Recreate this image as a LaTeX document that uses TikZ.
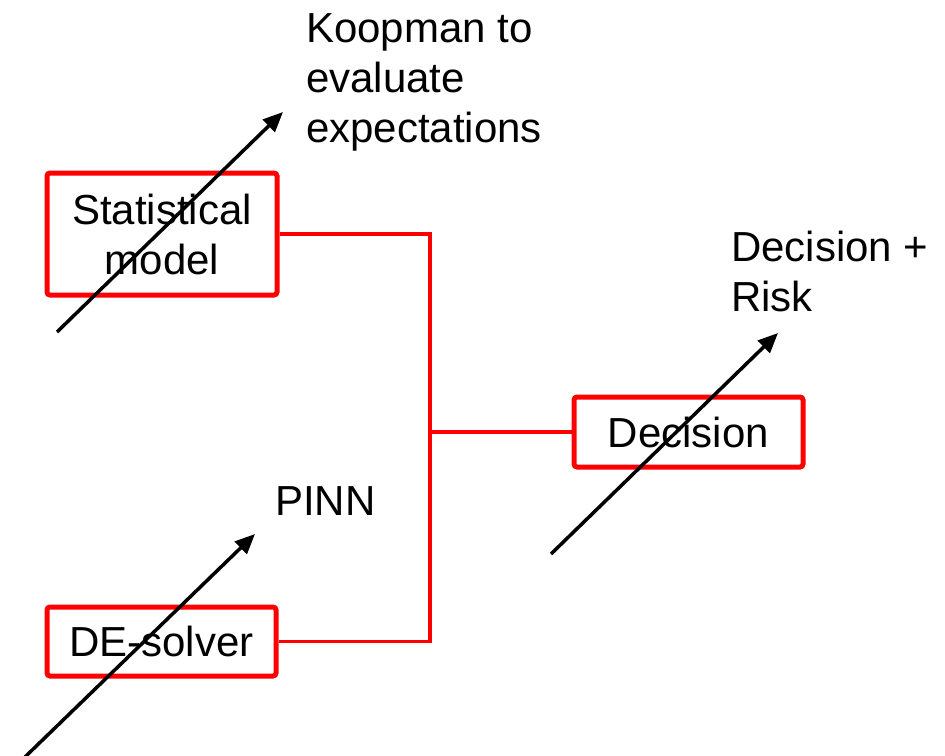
\documentclass[tikz,border=0pt]{standalone}
\usepackage{fontspec}
\setmainfont{Liberation Sans}
\usetikzlibrary{arrows.meta}
\tikzset{
  redbox/.style={draw=red, line width=5pt, rounded corners=3pt, inner sep=0pt,
    align=center, font=\fontsize{42}{50}\selectfont},
  lbl/.style={inner sep=0pt, align=left, font=\fontsize{42}{50}\selectfont},
  link/.style={draw=red, line width=3.5pt},
  arr/.style={draw=black, line width=3.5pt, -{Triangle[length=20pt,width=17pt]}}
}
\begin{document}
\begin{tikzpicture}[x=1pt,y=-1pt]
\useasboundingbox (0,0) rectangle (945,755);
% boxes
\node[redbox, minimum width=230pt, minimum height=122pt] (stat) at (162,234) {Statistical\\model};
\node[redbox, minimum width=229pt, minimum height=69pt] (de) at (161.5,641.5) {DE-solver};
\node[redbox, minimum width=229pt, minimum height=70pt] (dec) at (688.5,432) {Decision};
% labels
\node[lbl, anchor=north west] (koop) at (306,13) {Koopman to\\evaluate\\expectations};
\node[lbl, anchor=north west] (risk) at (731,231) {Decision +\\Risk};
\node[lbl, anchor=base west] (pinn) at (275,515.5) {PINN};
% connectors
\coordinate (j) at (430,432);
\draw[link] (stat.east) -| (j);
\draw[link] (de.east) -| (j);
\draw[link] (j) -- (dec.west);
% arrows
\coordinate (a1s) at (57,332);
\coordinate (a1e) at (283,112);
\coordinate (a2s) at (25,757);
\coordinate (a2e) at (255,534);
\coordinate (a3s) at (551,554);
\coordinate (a3e) at (778,333);
\draw[arr] (a1s) -- (a1e);
\draw[arr] (a2s) -- (a2e);
\draw[arr] (a3s) -- (a3e);
\end{tikzpicture}
\end{document}
